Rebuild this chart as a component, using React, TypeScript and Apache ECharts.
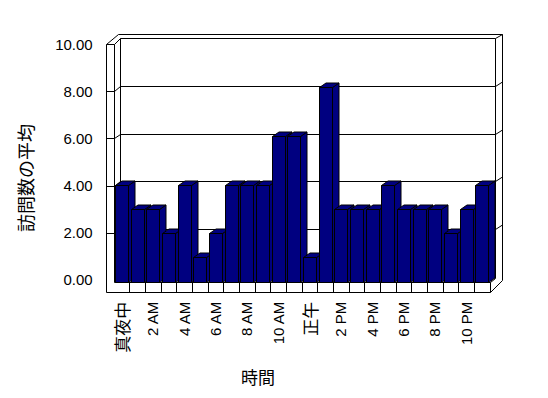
import React, { useEffect, useRef } from "react";
import * as echarts from "echarts";

const hours = [
  "真夜中", "1 AM", "2 AM", "3 AM", "4 AM", "5 AM", "6 AM", "7 AM", "8 AM", "9 AM", "10 AM", "11 AM",
  "正午", "1 PM", "2 PM", "3 PM", "4 PM", "5 PM", "6 PM", "7 PM", "8 PM", "9 PM", "10 PM", "11 PM",
];
const visits = [4, 3, 3, 2, 4, 1, 2, 4, 4, 4, 6, 6, 1, 8, 3, 3, 3, 4, 3, 3, 3, 2, 3, 4];
const yTicks = [0, 2, 4, 6, 8, 10];
const gridValues = [2, 4, 6, 8];
const yTitle = "訪問数の平均";
const xTitle = "時間";

const LATIN = '"Liberation Sans", Arial, sans-serif';
const CJK = '"Noto Sans CJK JP", sans-serif';
const NAVY = "#000080";

const h = (v: number) => Math.round(v) + 0.5;

export default function App() {
  const ref = useRef<HTMLDivElement>(null);
  useEffect(() => {
    if (!ref.current) return;
    const chart = echarts.init(ref.current, undefined, { renderer: "svg" });
    const line = (pts: number[][]) => ({
      type: "polyline",
      shape: { points: pts },
      style: { stroke: "#000", lineWidth: 1, fill: "none" },
      silent: true,
    });
    chart.setOption({
      animation: false,
      backgroundColor: "#fff",
      grid: { left: 113.7, right: 58.3, top: 38.7, bottom: 116.3 },
      xAxis: {
        type: "category",
        data: hours,
        axisLine: { show: false },
        axisTick: { show: false },
        splitLine: { show: false },
        axisLabel: {
          interval: 1,
          rotate: 90,
          margin: 20,
          color: "#000",
          fontFamily: LATIN,
          fontSize: 15,
          formatter: (v: string) => (/[^\x00-\x7F]/.test(v) ? `{c|${v}}` : v),
          rich: { c: { fontFamily: CJK, fontSize: 17, color: "#000" } },
        },
      },
      yAxis: [
        {
          type: "value",
          min: 0,
          max: 10,
          interval: 2,
          axisLine: { show: false },
          axisTick: { show: false },
          axisLabel: { show: false },
          splitLine: { show: false },
        },
        {
          type: "value",
          position: "left",
          min: -0.07204,
          max: 10.2246,
          axisLine: { show: false },
          axisTick: { show: false },
          splitLine: { show: false },
          axisLabel: {
            customValues: yTicks,
            margin: 21,
            color: "#000",
            fontFamily: LATIN,
            fontSize: 15,
            formatter: (v: number) => Number(v).toFixed(2),
          },
        },
      ],
      graphic: [
        {
          type: "text",
          x: 25,
          y: 178,
          rotation: Math.PI / 2,
          style: { text: yTitle, font: `18px ${CJK}`, fill: "#000", align: "center", verticalAlign: "middle" },
        },
        {
          type: "text",
          x: 258,
          y: 376,
          style: { text: xTitle, font: `17px ${CJK}`, fill: "#000", align: "center", verticalAlign: "middle" },
        },
      ],
      series: [
        {
          type: "custom",
          z: 1,
          silent: true,
          data: [[0, 0]],
          renderItem: (params: any, api: any) => {
            const cs = params.coordSys;
            const gx = cs.x, gt = cs.y, gr = cs.x + cs.width, gb = cs.y + cs.height;
            const backL = gx + 6.3, backR = gr + 5.3, backT = gt - 0.4, backB = gb - 5;
            const backY = (v: number) => backB - (v * (backB - backT)) / 10;
            const fB = gb - 1.7, fT = gt + 5.3;
            const frontY = (v: number) => fB - (v * (fB - fT)) / 10;
            const outerL = gx - 8.2, outerR = gr + 12.3, outerT = gt - 5.2, floorF = gb + 10.3;
            const kids: any[] = [];
            kids.push(line([[h(outerL), h(frontY(10))], [h(outerL), h(floorF)], [h(gr), h(floorF)], [h(outerR), h(floorF - 12)], [h(outerR), h(outerT)], [h(outerL + 12), h(outerT)], [h(outerL), h(frontY(10))]]));
            kids.push(line([[h(outerL), h(frontY(10))], [h(gx), h(frontY(10))], [h(backL), h(backT)], [h(backR), h(backT)], [h(outerR), h(outerT)]]));
            kids.push(line([[h(gx), h(frontY(10))], [h(gx), h(gb)]]));
            kids.push(line([[h(backL), h(backT)], [h(backL), h(gb)]]));
            kids.push(line([[h(backR), h(backT)], [h(backR), h(backB + 1)]]));
            kids.push(line([[h(gx), h(gb)], [h(gr), h(gb)], [h(gr), h(floorF)]]));
            kids.push(line([[h(gr), h(gb)], [h(backR), h(backB + 1)]]));
            const band = api.size([1, 0])[0];
            for (let k = 1; k < hours.length; k++) {
              const x = h(gx + k * band);
              kids.push(line([[x, h(gb)], [x, h(floorF)]]));
            }
            gridValues.forEach((v) => {
              const yf = h(frontY(v)), yb = h(backY(v));
              kids.push(line([[h(outerL), yf], [h(gx), yf], [h(backL), yb], [h(backR), yb], [h(outerR), yb - 4.5]]));
            });
            return { type: "group", children: kids };
          },
        },
        {
          type: "custom",
          z: 2,
          data: visits.map((v, i) => [i, v]),
          encode: { x: 0, y: 1 },
          renderItem: (params: any, api: any) => {
            const i = api.value(0), v = api.value(1);
            const base = api.coord([i, 0]);
            const top = api.coord([i, v]);
            const band = api.size([1, 0])[0];
            const w = Math.round(band * 0.81);
            const x0 = h(base[0] - w / 2), x1 = x0 + w;
            const yb = h(base[1]), yt = h(top[1]);
            const dx = 6.5, dy = 4.5;
            const style = { fill: NAVY, stroke: "#000", lineWidth: 1 };
            return {
              type: "group",
              children: [
                { type: "polygon", shape: { points: [[x1, yt], [x1 + dx, yt - dy], [x1 + dx, yb - dy], [x1, yb]] }, style },
                { type: "polygon", shape: { points: [[x0, yt], [x0 + dx, yt - dy], [x1 + dx, yt - dy], [x1, yt]] }, style },
                { type: "rect", shape: { x: x0, y: yt, width: w, height: yb - yt }, style },
              ],
            };
          },
        },
      ],
    });
    return () => chart.dispose();
  }, []);
  return <div ref={ref} style={{ position: "fixed", left: 0, top: 0, width: 548, height: 398 }} />;
}
